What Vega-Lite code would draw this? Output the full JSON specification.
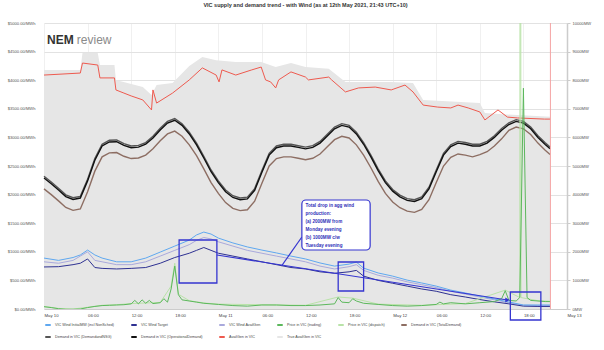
{"$schema":"https://vega.github.io/schema/vega-lite/v6.json","width":523,"height":286,"autosize":"none","padding":{"left":44,"top":23,"right":37,"bottom":41},
"title":{"text":"VIC supply and demand trend - with Wind (as at 12th May 2021, 21:43 UTC+10)","fontSize":5.5,"fontWeight":"bold","color":"#333","offset":13},
"config":{"view":{"stroke":null}},
"datasets":{
"dem":[{"t":"2021-05-10T00:00","op":4580,"nsg":4640,"tot":4200},{"t":"2021-05-10T01:00","op":4380,"nsg":4440,"tot":4000},{"t":"2021-05-10T02:00","op":4160,"nsg":4220,"tot":3780},{"t":"2021-05-10T03:00","op":3930,"nsg":3990,"tot":3550},{"t":"2021-05-10T04:00","op":3830,"nsg":3890,"tot":3450},{"t":"2021-05-10T05:00","op":3880,"nsg":3940,"tot":3500},{"t":"2021-05-10T06:00","op":4480,"nsg":4540,"tot":4100},{"t":"2021-05-10T07:00","op":5200,"nsg":5260,"tot":4820},{"t":"2021-05-10T08:00","op":5700,"nsg":5760,"tot":5320},{"t":"2021-05-10T09:00","op":5840,"nsg":5900,"tot":5460},{"t":"2021-05-10T10:00","op":5850,"nsg":5910,"tot":5470},{"t":"2021-05-10T11:00","op":5720,"nsg":5780,"tot":5340},{"t":"2021-05-10T12:00","op":5640,"nsg":5700,"tot":5260},{"t":"2021-05-10T13:00","op":5660,"nsg":5720,"tot":5280},{"t":"2021-05-10T14:00","op":5760,"nsg":5820,"tot":5380},{"t":"2021-05-10T15:00","op":5980,"nsg":6040,"tot":5600},{"t":"2021-05-10T16:00","op":6260,"nsg":6320,"tot":5880},{"t":"2021-05-10T17:00","op":6500,"nsg":6560,"tot":6120},{"t":"2021-05-10T18:00","op":6600,"nsg":6660,"tot":6220},{"t":"2021-05-10T19:00","op":6420,"nsg":6480,"tot":6040},{"t":"2021-05-10T20:00","op":6120,"nsg":6180,"tot":5740},{"t":"2021-05-10T21:00","op":5740,"nsg":5800,"tot":5360},{"t":"2021-05-10T22:00","op":5280,"nsg":5340,"tot":4900},{"t":"2021-05-10T23:00","op":4800,"nsg":4860,"tot":4420},{"t":"2021-05-11T00:00","op":4420,"nsg":4480,"tot":4040},{"t":"2021-05-11T01:00","op":4100,"nsg":4160,"tot":3720},{"t":"2021-05-11T02:00","op":3900,"nsg":3960,"tot":3520},{"t":"2021-05-11T03:00","op":3820,"nsg":3880,"tot":3440},{"t":"2021-05-11T04:00","op":3850,"nsg":3910,"tot":3470},{"t":"2021-05-11T05:00","op":4150,"nsg":4210,"tot":3770},{"t":"2021-05-11T06:00","op":4780,"nsg":4840,"tot":4400},{"t":"2021-05-11T07:00","op":5380,"nsg":5440,"tot":5000},{"t":"2021-05-11T08:00","op":5640,"nsg":5700,"tot":5260},{"t":"2021-05-11T09:00","op":5700,"nsg":5760,"tot":5320},{"t":"2021-05-11T10:00","op":5700,"nsg":5760,"tot":5320},{"t":"2021-05-11T11:00","op":5650,"nsg":5710,"tot":5270},{"t":"2021-05-11T12:00","op":5600,"nsg":5660,"tot":5220},{"t":"2021-05-11T13:00","op":5650,"nsg":5710,"tot":5270},{"t":"2021-05-11T14:00","op":5800,"nsg":5860,"tot":5420},{"t":"2021-05-11T15:00","op":6050,"nsg":6110,"tot":5670},{"t":"2021-05-11T16:00","op":6300,"nsg":6360,"tot":5920},{"t":"2021-05-11T17:00","op":6420,"nsg":6480,"tot":6040},{"t":"2021-05-11T18:00","op":6360,"nsg":6420,"tot":5980},{"t":"2021-05-11T19:00","op":6120,"nsg":6180,"tot":5740},{"t":"2021-05-11T20:00","op":5760,"nsg":5820,"tot":5380},{"t":"2021-05-11T21:00","op":5320,"nsg":5380,"tot":4940},{"t":"2021-05-11T22:00","op":4840,"nsg":4900,"tot":4460},{"t":"2021-05-11T23:00","op":4420,"nsg":4480,"tot":4040},{"t":"2021-05-12T00:00","op":4120,"nsg":4180,"tot":3740},{"t":"2021-05-12T01:00","op":3920,"nsg":3980,"tot":3540},{"t":"2021-05-12T02:00","op":3800,"nsg":3860,"tot":3420},{"t":"2021-05-12T03:00","op":3760,"nsg":3820,"tot":3380},{"t":"2021-05-12T04:00","op":3860,"nsg":3920,"tot":3480},{"t":"2021-05-12T05:00","op":4200,"nsg":4260,"tot":3820},{"t":"2021-05-12T06:00","op":4800,"nsg":4860,"tot":4420},{"t":"2021-05-12T07:00","op":5380,"nsg":5440,"tot":5000},{"t":"2021-05-12T08:00","op":5680,"nsg":5740,"tot":5300},{"t":"2021-05-12T09:00","op":5800,"nsg":5860,"tot":5420},{"t":"2021-05-12T10:00","op":5760,"nsg":5820,"tot":5380},{"t":"2021-05-12T11:00","op":5700,"nsg":5760,"tot":5320},{"t":"2021-05-12T12:00","op":5700,"nsg":5760,"tot":5400},{"t":"2021-05-12T13:00","op":5800,"nsg":5860,"tot":5500},{"t":"2021-05-12T14:00","op":6000,"nsg":6060,"tot":5700},{"t":"2021-05-12T15:00","op":6250,"nsg":6310,"tot":5950},{"t":"2021-05-12T16:00","op":6450,"nsg":6510,"tot":6250},{"t":"2021-05-12T17:00","op":6560,"nsg":6620,"tot":6360},{"t":"2021-05-12T18:00","op":6500,"nsg":6560,"tot":6300},{"t":"2021-05-12T19:00","op":6300,"nsg":6360,"tot":6100},{"t":"2021-05-12T20:00","op":6000,"nsg":6060,"tot":5800},{"t":"2021-05-12T21:00","op":5750,"nsg":5810,"tot":5550},{"t":"2021-05-12T21:40","op":5600,"nsg":5660,"tot":5400}],
"wind":[{"t":"2021-05-10T00:00","init":1780,"tgt":1470,"wav":1650},{"t":"2021-05-10T02:00","init":1700,"tgt":1480,"wav":1600},{"t":"2021-05-10T04:00","init":1800,"tgt":1550,"wav":1700},{"t":"2021-05-10T05:00","init":1890,"tgt":1600,"wav":1850},{"t":"2021-05-10T06:00","init":2060,"tgt":1750,"wav":2000},{"t":"2021-05-10T07:00","init":1890,"tgt":1450,"wav":1700},{"t":"2021-05-10T08:00","init":1780,"tgt":1420,"wav":1650},{"t":"2021-05-10T10:00","init":1650,"tgt":1400,"wav":1550},{"t":"2021-05-10T12:00","init":1650,"tgt":1420,"wav":1550},{"t":"2021-05-10T14:00","init":1780,"tgt":1450,"wav":1650},{"t":"2021-05-10T16:00","init":1990,"tgt":1600,"wav":1850},{"t":"2021-05-10T18:00","init":2200,"tgt":1800,"wav":2050},{"t":"2021-05-10T20:00","init":2410,"tgt":1950,"wav":2250},{"t":"2021-05-10T21:00","init":2590,"tgt":2050,"wav":2400},{"t":"2021-05-10T22:00","init":2690,"tgt":2150,"wav":2500},{"t":"2021-05-10T23:00","init":2620,"tgt":2050,"wav":2450},{"t":"2021-05-11T00:00","init":2480,"tgt":1950,"wav":2350},{"t":"2021-05-11T02:00","init":2310,"tgt":1850,"wav":2200},{"t":"2021-05-11T04:00","init":2170,"tgt":1750,"wav":2050},{"t":"2021-05-11T06:00","init":2060,"tgt":1650,"wav":1950},{"t":"2021-05-11T08:00","init":1960,"tgt":1550,"wav":1850},{"t":"2021-05-11T10:00","init":1850,"tgt":1450,"wav":1750},{"t":"2021-05-11T12:00","init":1750,"tgt":1400,"wav":1650},{"t":"2021-05-11T14:00","init":1610,"tgt":1300,"wav":1500},{"t":"2021-05-11T16:00","init":1500,"tgt":1250,"wav":1400},{"t":"2021-05-11T18:00","init":1570,"tgt":1300,"wav":1480},{"t":"2021-05-11T19:00","init":1640,"tgt":1350,"wav":1550},{"t":"2021-05-11T20:00","init":1430,"tgt":1150,"wav":1350},{"t":"2021-05-11T22:00","init":1260,"tgt":1000,"wav":1180},{"t":"2021-05-12T00:00","init":1150,"tgt":900,"wav":1080},{"t":"2021-05-12T02:00","init":1010,"tgt":800,"wav":950},{"t":"2021-05-12T04:00","init":910,"tgt":700,"wav":850},{"t":"2021-05-12T06:00","init":800,"tgt":620,"wav":750},{"t":"2021-05-12T08:00","init":660,"tgt":500,"wav":620},{"t":"2021-05-12T10:00","init":560,"tgt":420,"wav":520},{"t":"2021-05-12T12:00","init":450,"tgt":330,"wav":420},{"t":"2021-05-12T14:00","init":350,"tgt":250,"wav":320},{"t":"2021-05-12T16:00","init":245,"tgt":180,"wav":220},{"t":"2021-05-12T18:00","init":140,"tgt":100,"wav":130},{"t":"2021-05-12T20:00","init":140,"tgt":90,"wav":120},{"t":"2021-05-12T21:40","init":140,"tgt":90,"wav":120}],
"ag":[{"t":"2021-05-10T00:00","ag":8180},{"t":"2021-05-10T05:00","ag":8250},{"t":"2021-05-10T05:18","ag":8600},{"t":"2021-05-10T07:24","ag":8530},{"t":"2021-05-10T07:42","ag":8080},{"t":"2021-05-10T09:42","ag":8080},{"t":"2021-05-10T09:54","ag":7660},{"t":"2021-05-10T11:00","ag":7550},{"t":"2021-05-10T12:00","ag":7450},{"t":"2021-05-10T13:36","ag":7310},{"t":"2021-05-10T14:48","ag":6960},{"t":"2021-05-10T15:00","ag":7660},{"t":"2021-05-10T15:30","ag":7200},{"t":"2021-05-10T17:42","ag":7550},{"t":"2021-05-10T20:00","ag":8010},{"t":"2021-05-10T21:48","ag":8430},{"t":"2021-05-10T23:42","ag":8180},{"t":"2021-05-11T00:06","ag":7940},{"t":"2021-05-11T00:30","ag":8360},{"t":"2021-05-11T02:24","ag":8180},{"t":"2021-05-11T04:36","ag":8360},{"t":"2021-05-11T05:54","ag":8460},{"t":"2021-05-11T06:30","ag":8010},{"t":"2021-05-11T07:12","ag":7940},{"t":"2021-05-11T07:54","ag":7730},{"t":"2021-05-11T08:18","ag":8010},{"t":"2021-05-11T10:00","ag":8290},{"t":"2021-05-11T12:00","ag":8110},{"t":"2021-05-11T12:24","ag":8010},{"t":"2021-05-11T15:12","ag":8110},{"t":"2021-05-11T15:36","ag":8010},{"t":"2021-05-11T17:30","ag":7590},{"t":"2021-05-11T19:18","ag":7730},{"t":"2021-05-11T21:36","ag":7760},{"t":"2021-05-11T23:48","ag":7660},{"t":"2021-05-12T01:42","ag":7830},{"t":"2021-05-12T02:48","ag":7590},{"t":"2021-05-12T04:12","ag":7130},{"t":"2021-05-12T06:12","ag":7060},{"t":"2021-05-12T08:00","ag":7030},{"t":"2021-05-12T09:00","ag":7130},{"t":"2021-05-12T10:24","ag":7030},{"t":"2021-05-12T12:00","ag":6890},{"t":"2021-05-12T12:42","ag":6610},{"t":"2021-05-12T14:30","ag":6960},{"t":"2021-05-12T15:48","ag":6710},{"t":"2021-05-12T17:12","ag":6680},{"t":"2021-05-12T20:54","ag":6640},{"t":"2021-05-12T21:42","ag":6640}],
"tav":[{"t":"2021-05-10T00:00","tav":8360},{"t":"2021-05-10T05:00","tav":8360},{"t":"2021-05-10T05:18","tav":8950},{"t":"2021-05-10T07:24","tav":8950},{"t":"2021-05-10T07:42","tav":8530},{"t":"2021-05-10T09:42","tav":8530},{"t":"2021-05-10T09:54","tav":8010},{"t":"2021-05-10T13:36","tav":7760},{"t":"2021-05-10T14:48","tav":7480},{"t":"2021-05-10T15:30","tav":7830},{"t":"2021-05-10T17:42","tav":7900},{"t":"2021-05-10T20:00","tav":8500},{"t":"2021-05-10T21:48","tav":8810},{"t":"2021-05-10T23:42","tav":8700},{"t":"2021-05-11T02:24","tav":8640},{"t":"2021-05-11T05:54","tav":8640},{"t":"2021-05-11T07:54","tav":8460},{"t":"2021-05-11T10:00","tav":8600},{"t":"2021-05-11T12:00","tav":8460},{"t":"2021-05-11T15:12","tav":8400},{"t":"2021-05-11T17:30","tav":7940},{"t":"2021-05-11T23:48","tav":7940},{"t":"2021-05-12T02:48","tav":7900},{"t":"2021-05-12T04:12","tav":7310},{"t":"2021-05-12T12:00","tav":7200},{"t":"2021-05-12T12:42","tav":6850},{"t":"2021-05-12T17:12","tav":6780},{"t":"2021-05-12T21:42","tav":6720}],
"trd":[{"t":"2021-05-10T00:00","trd":40},{"t":"2021-05-10T01:00","trd":25},{"t":"2021-05-10T02:00","trd":5},{"t":"2021-05-10T03:00","trd":-5},{"t":"2021-05-10T04:00","trd":-5},{"t":"2021-05-10T05:00","trd":0},{"t":"2021-05-10T06:00","trd":25},{"t":"2021-05-10T07:00","trd":45},{"t":"2021-05-10T08:00","trd":60},{"t":"2021-05-10T09:00","trd":65},{"t":"2021-05-10T10:00","trd":70},{"t":"2021-05-10T11:00","trd":75},{"t":"2021-05-10T12:00","trd":90},{"t":"2021-05-10T12:30","trd":150},{"t":"2021-05-10T13:00","trd":90},{"t":"2021-05-10T13:30","trd":160},{"t":"2021-05-10T14:00","trd":100},{"t":"2021-05-10T14:30","trd":150},{"t":"2021-05-10T15:00","trd":95},{"t":"2021-05-10T16:00","trd":110},{"t":"2021-05-10T16:30","trd":180},{"t":"2021-05-10T17:00","trd":120},{"t":"2021-05-10T17:30","trd":350},{"t":"2021-05-10T18:00","trd":750},{"t":"2021-05-10T18:30","trd":250},{"t":"2021-05-10T19:00","trd":160},{"t":"2021-05-10T20:00","trd":140},{"t":"2021-05-10T21:00","trd":120},{"t":"2021-05-10T22:00","trd":100},{"t":"2021-05-11T00:00","trd":80},{"t":"2021-05-11T02:00","trd":60},{"t":"2021-05-11T04:00","trd":50},{"t":"2021-05-11T06:00","trd":70},{"t":"2021-05-11T08:00","trd":70},{"t":"2021-05-11T10:00","trd":60},{"t":"2021-05-11T12:00","trd":60},{"t":"2021-05-11T14:00","trd":70},{"t":"2021-05-11T16:00","trd":90},{"t":"2021-05-11T16:30","trd":200},{"t":"2021-05-11T17:00","trd":120},{"t":"2021-05-11T18:00","trd":110},{"t":"2021-05-11T18:30","trd":180},{"t":"2021-05-11T19:00","trd":140},{"t":"2021-05-11T20:00","trd":100},{"t":"2021-05-11T22:00","trd":80},{"t":"2021-05-12T00:00","trd":60},{"t":"2021-05-12T02:00","trd":50},{"t":"2021-05-12T04:00","trd":60},{"t":"2021-05-12T06:00","trd":80},{"t":"2021-05-12T06:30","trd":120},{"t":"2021-05-12T07:00","trd":90},{"t":"2021-05-12T08:00","trd":110},{"t":"2021-05-12T10:00","trd":90},{"t":"2021-05-12T12:00","trd":110},{"t":"2021-05-12T14:00","trd":130},{"t":"2021-05-12T15:00","trd":180},{"t":"2021-05-12T15:30","trd":320},{"t":"2021-05-12T16:00","trd":150},{"t":"2021-05-12T17:00","trd":140},{"t":"2021-05-12T17:30","trd":200},{"t":"2021-05-12T18:00","trd":3860},{"t":"2021-05-12T18:30","trd":200},{"t":"2021-05-12T19:00","trd":150},{"t":"2021-05-12T20:00","trd":140},{"t":"2021-05-12T21:00","trd":130},{"t":"2021-05-12T21:40","trd":130}],
"dsp":[{"t":"2021-05-10T00:00","dsp":45},{"t":"2021-05-10T02:00","dsp":10},{"t":"2021-05-10T04:00","dsp":0},{"t":"2021-05-10T06:00","dsp":30},{"t":"2021-05-10T08:00","dsp":65},{"t":"2021-05-10T10:00","dsp":75},{"t":"2021-05-10T12:00","dsp":95},{"t":"2021-05-10T14:00","dsp":105},{"t":"2021-05-10T16:00","dsp":115},{"t":"2021-05-10T17:30","dsp":400},{"t":"2021-05-10T18:00","dsp":800},{"t":"2021-05-10T18:30","dsp":260},{"t":"2021-05-10T20:00","dsp":145},{"t":"2021-05-10T22:00","dsp":105},{"t":"2021-05-11T00:00","dsp":85},{"t":"2021-05-11T06:00","dsp":75},{"t":"2021-05-11T12:00","dsp":65},{"t":"2021-05-11T16:30","dsp":210},{"t":"2021-05-11T18:30","dsp":190},{"t":"2021-05-11T22:00","dsp":85},{"t":"2021-05-12T04:00","dsp":65},{"t":"2021-05-12T10:00","dsp":95},{"t":"2021-05-12T15:30","dsp":330},{"t":"2021-05-12T17:30","dsp":200},{"t":"2021-05-12T17:35","dsp":15000},{"t":"2021-05-12T17:40","dsp":200},{"t":"2021-05-12T20:00","dsp":145},{"t":"2021-05-12T21:40","dsp":135}]},
"encoding":{"x":{"field":"t","type":"temporal","scale":{"domain":[{"year":2021,"month":5,"date":10},{"year":2021,"month":5,"date":13}]},
"axis":{"title":null,"tickCount":12,"labelExpr":"hours(datum.value) == 0 ? timeFormat(datum.value, '%b %d') : timeFormat(datum.value, '%H:%M')","labelAlign":"left","labelFontSize":4.3,"labelColor":"#444","labelPadding":4,"labelFlush":false,"labelOverlap":false,"ticks":false,"domainColor":"#cccccc","grid":true,"gridColor":"#f0f0f0"}}},
"layer":[
{"encoding":{"y":{"field":"v","type":"quantitative","scale":{"domain":[0,10000],"nice":false},"axis":{"orient":"right","title":null,"values":[0,1000,2000,3000,4000,5000,6000,7000,8000,9000,10000],"labelExpr":"datum.value + 'MW'","grid":false,"domainColor":"#cccccc","domainWidth":1.5,"tickSize":3,"tickColor":"#cccccc","labelFontSize":4.1,"labelColor":"#555","labelPadding":2}}},
"layer":[
{"data":{"name":"tav"},"transform":[{"fold":["tav"],"as":["k","v"]}],"mark":{"type":"area","opacity":1},"encoding":{"color":{"field":"k","type":"nominal"}}},
{"data":{"name":"ag"},"transform":[{"fold":["ag"],"as":["k","v"]}],"mark":{"type":"line","strokeWidth":1},"encoding":{"color":{"field":"k","type":"nominal"}}},
{"data":{"name":"dem"},"transform":[{"fold":["tot","nsg","op"],"as":["k","v"]}],"mark":{"type":"line","strokeWidth":1.4},"encoding":{"color":{"field":"k","type":"nominal"}}},
{"data":{"name":"wind"},"transform":[{"fold":["wav","tgt","init"],"as":["k","v"]}],"mark":{"type":"line","strokeWidth":1},"encoding":{"color":{"field":"k","type":"nominal"}}}]},
{"encoding":{"y":{"field":"v","type":"quantitative","scale":{"domain":[0,5000],"nice":false},"axis":{"orient":"left","title":null,"values":[0,500,1000,1500,2000,2500,3000,3500,4000,4500,5000],"labelExpr":"format(datum.value, '$.2f') + '/MWh'","grid":true,"gridColor":"#e2e2e2","domain":false,"ticks":false,"labelFontSize":4.1,"labelColor":"#555","labelPadding":9}}},
"layer":[
{"data":{"name":"dsp"},"transform":[{"fold":["dsp"],"as":["k","v"]}],"mark":{"type":"line","strokeWidth":1,"clip":true},"encoding":{"color":{"field":"k","type":"nominal"}}},
{"data":{"name":"trd"},"transform":[{"fold":["trd"],"as":["k","v"]}],"mark":{"type":"line","strokeWidth":1,"clip":true},"encoding":{"color":{"field":"k","type":"nominal","scale":{"domain":["init","tgt","wav","trd","dsp","tot","nsg","op","ag","tav"],"range":["#5fa8f0","#2e3192","#a9a9dc","#5cb85c","#b9e3a8","#8d6e63","#555555","#111111","#ee5a4f","#e6e6e6"]},
"legend":{"orient":"bottom","direction":"horizontal","columns":6,"offset":3,"title":null,"symbolType":"stroke","symbolSize":30,"symbolStrokeWidth":2,"labelFontSize":3.7,"labelColor":"#444","columnPadding":12,"rowPadding":4,"labelOffset":3,"labelExpr":"datum.label == 'init' ? 'VIC Wind InitialMW (incl NonSched)' : datum.label == 'tgt' ? 'VIC Wind Target' : datum.label == 'wav' ? 'VIC Wind AvailGen' : datum.label == 'trd' ? 'Price in VIC (trading)' : datum.label == 'dsp' ? 'Price in VIC (dispatch)' : datum.label == 'tot' ? 'Demand in VIC (TotalDemand)' : datum.label == 'nsg' ? 'Demand in VIC (DemandandNSG)' : datum.label == 'op' ? 'Demand in VIC (OperationalDemand)' : datum.label == 'ag' ? 'AvailGen in VIC' : 'True AvailGen in VIC'"}}}}]},
{"encoding":{"y":{"field":"y","type":"quantitative","scale":{"domain":[0,10000],"nice":false},"axis":null}},
"layer":[
{"data":{"values":[{"t":"2021-05-12T21:43","y":0,"y2":10000}]},"mark":{"type":"rule","color":"#f4a3a3","strokeWidth":1},"encoding":{"y2":{"field":"y2"}}},
{"data":{"values":[{"t":"2021-05-10T18:36","t2":"2021-05-10T23:48","y":2413,"y2":909},{"t":"2021-05-11T16:30","t2":"2021-05-11T20:00","y":1644,"y2":629},{"t":"2021-05-12T16:12","t2":"2021-05-12T20:24","y":595,"y2":-385}]},"mark":{"type":"rect","fillOpacity":0,"stroke":"#3535d0","strokeWidth":1.3},"encoding":{"x2":{"field":"t2"},"y2":{"field":"y2"}}},
{"data":{"values":[{"t":"2021-05-10T23:48","t2":"2021-05-12T15:48","y":1888,"y2":315},{"t":"2021-05-11T11:30","t2":"2021-05-11T08:42","y":2518,"y2":1504}]},"mark":{"type":"rule","color":"#3535d0","strokeWidth":1.2},"encoding":{"x2":{"field":"t2"},"y2":{"field":"y2"}}},
{"data":{"values":[{"t":"2021-05-12T15:48","y":315}]},"mark":{"type":"point","shape":"triangle-right","filled":true,"color":"#3535d0","size":25,"opacity":1}},
{"data":{"values":[{"t":"2021-05-11T11:30","t2":"2021-05-11T20:54","y":3812,"y2":2063}]},"mark":{"type":"rect","fill":"white","stroke":"#3535d0","strokeWidth":1.2,"cornerRadius":4},"encoding":{"x2":{"field":"t2"},"y2":{"field":"y2"}}},
{"data":{"values":[{"t":"2021-05-11T12:00","y":3700}]},"mark":{"type":"text","fontSize":4.6,"fontWeight":"bold","color":"#2f2fb8","align":"left","baseline":"top","lineHeight":8,"text":["Total drop in agg wind","production:","(a)  2000MW from","Monday evening","(b)  1000MW c/w","Tuesday evening"]}},
{"data":{"values":[{"t":"2021-05-10T00:25","y":9407}]},"mark":{"type":"text","fontSize":12,"fontWeight":"bold","color":"#333","align":"left","text":"NEM"}},
{"data":{"values":[{"t":"2021-05-10T04:31","y":9407}]},"mark":{"type":"text","fontSize":12,"color":"#8a8a8a","align":"left","text":"review"}}]}],
"resolve":{"scale":{"y":"independent"}}}
